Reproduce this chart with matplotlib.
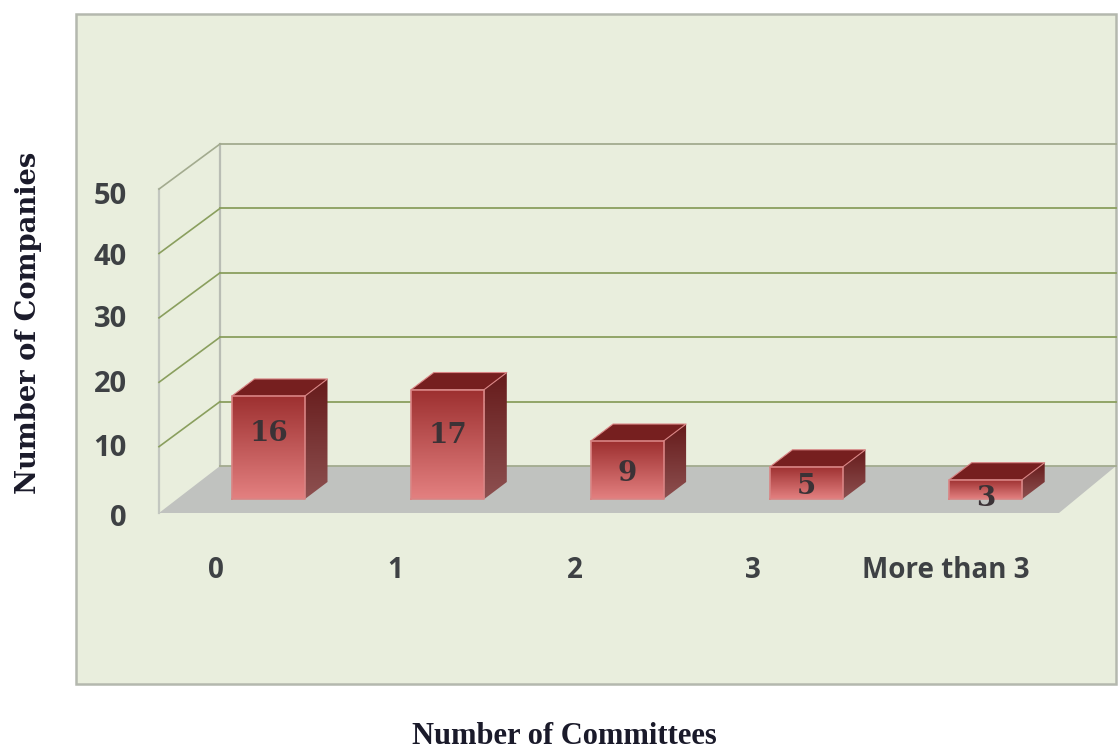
import matplotlib
matplotlib.use("Agg")
import matplotlib.pyplot as plt
from matplotlib.patches import Polygon
import numpy as np

categories = ["0", "1", "2", "3", "More than 3"]
companies = [16, 17, 9, 5, 3]
y_ticks = [0, 10, 20, 30, 40, 50]

x_title = "Number of Committees"
y_title = "Number of Companies"

W, H = 1119, 749
x_step = 179.3   # px per category
y_step = 6.44    # px per company
x0_px = 268.5
y0_px = 499

bar_width = 73 / x_step
bar_dx = 22.5 / x_step
bar_dy = 17 / y_step

# depth planes of the 3d box, relative to the plane of the bar fronts
back_dx, back_dy = (220 - x0_px) / x_step, (y0_px - 466) / y_step
front_dx, front_dy = (159 - x0_px) / x_step, (y0_px - 513) / y_step
wall_right = (1116 - x0_px) / x_step
floor_right = (1059 - x0_px) / x_step
front_top = front_dy + 50.3

# nudges for the labels
label_lift = [10.2, 9.9, 4.0, 1.9, 0.1]
cat_label_x = [-0.293, -0.293, -0.293, -0.30, -0.223]
tick_nudge_px = [-20, -14, -14, -14, -16, -19]

fig = plt.figure(figsize=(W / 100, H / 100), dpi=100, facecolor="white")
ax = fig.add_axes([0, 0, 1, 1])
ax.set_xlim(-x0_px / x_step, (W - x0_px) / x_step)
ax.set_ylim((y0_px - H) / y_step, y0_px / y_step)
ax.set_axis_off()


def px_box(left, top, right, bottom):
    return [[(left - x0_px) / x_step, (y0_px - top) / y_step],
            [(right - x0_px) / x_step, (y0_px - top) / y_step],
            [(right - x0_px) / x_step, (y0_px - bottom) / y_step],
            [(left - x0_px) / x_step, (y0_px - bottom) / y_step]]


def gradient_poly(pts, top_col, bot_col, zorder):
    # vertical colour ramp clipped to a polygon
    pts = np.array(pts)
    c1 = np.array(matplotlib.colors.to_rgb(top_col))
    c2 = np.array(matplotlib.colors.to_rgb(bot_col))
    t = np.linspace(0, 1, 64)[:, None, None]
    img = c1[None, None, :] * (1 - t) + c2[None, None, :] * t
    im = ax.imshow(img, aspect="auto", zorder=zorder, interpolation="bilinear",
                   extent=(pts[:, 0].min(), pts[:, 0].max(), pts[:, 1].min(), pts[:, 1].max()))
    patch = Polygon(pts, closed=True, transform=ax.transData, fc="none", ec="none")
    ax.add_patch(patch)
    im.set_clip_path(patch)


# chart area panel
ax.add_patch(Polygon(px_box(75.5, 14, 1116, 684), closed=True, fc="#e9eedd", ec="#b4b8ae", lw=1.8, zorder=1))

# floor
ax.add_patch(Polygon([[front_dx, front_dy], [back_dx, back_dy], [wall_right, back_dy], [floor_right, front_dy]],
                     closed=True, fc="#c0c2bf", ec="none", zorder=2))

# walls and gridlines
ax.plot([back_dx, back_dx], [back_dy, back_dy + 50], color="#b9bdb4", lw=1.6, zorder=2)
ax.plot([front_dx, front_dx], [front_dy, front_top], color="#c3c7c0", lw=1.6, zorder=2)
for v in y_ticks:
    col = "#8a9f5e" if 0 < v < 50 else "#a3ab8f"
    ax.plot([back_dx, wall_right], [back_dy + v, back_dy + v], color=col, lw=1.3, zorder=2)
    if v > 0:
        ax.plot([front_dx, back_dx], [front_dy + v + 0.3, back_dy + v], color=col, lw=1.2, zorder=2)

# bars
edge = "#d98484"
for i, v in enumerate(companies):
    l, r = i - bar_width / 2, i + bar_width / 2
    gradient_poly([[l, 0], [r, 0], [r, v], [l, v]], "#9d3030", "#e38080", 3)
    gradient_poly([[r, 0], [r + bar_dx, bar_dy], [r + bar_dx, v + bar_dy], [r, v]], "#661b1b", "#8d5050", 3)
    ax.add_patch(Polygon([[l, v], [r, v], [r + bar_dx, v + bar_dy], [l + bar_dx, v + bar_dy]],
                         closed=True, fc="#761f1f", ec="none", zorder=3))
    ax.plot([l, r, r, l, l], [0, 0, v, v, 0], color=edge, lw=1.2, zorder=4)
    ax.plot([l, l + bar_dx, r + bar_dx, r], [v, v + bar_dy, v + bar_dy, v], color=edge, lw=0.8, zorder=4)
    ax.text(i, label_lift[i], str(v), ha="center", va="center", fontsize=20,
            family="DejaVu Serif", weight="bold", color="#3b3236", zorder=5)

# value axis labels
for v, nudge in zip(y_ticks, tick_nudge_px):
    ax.text((127 - x0_px) / x_step, v + nudge / y_step, str(v), ha="right", va="center", fontsize=21,
            family="Open Sans", weight="bold", color="#3e4144", zorder=5)

# category labels
for i, name in enumerate(categories):
    ax.text(i + cat_label_x[i], (y0_px - 570) / y_step, name, ha="center", va="center", fontsize=20,
            family="Open Sans", weight="bold", color="#3e4144", zorder=5)

ax.text((564 - x0_px) / x_step, (y0_px - 736) / y_step, x_title, ha="center", va="center", fontsize=22,
        family="Liberation Serif", weight="bold", color="#1a1a2a")
ax.text((28 - x0_px) / x_step, (y0_px - 323) / y_step, y_title, ha="center", va="center", rotation=90, fontsize=19.7,
        family="DejaVu Serif", weight="bold", color="#1a1a2a")

ax.set_xlim(-x0_px / x_step, (W - x0_px) / x_step)
ax.set_ylim((y0_px - H) / y_step, y0_px / y_step)
fig.savefig("out.png", dpi=100)
